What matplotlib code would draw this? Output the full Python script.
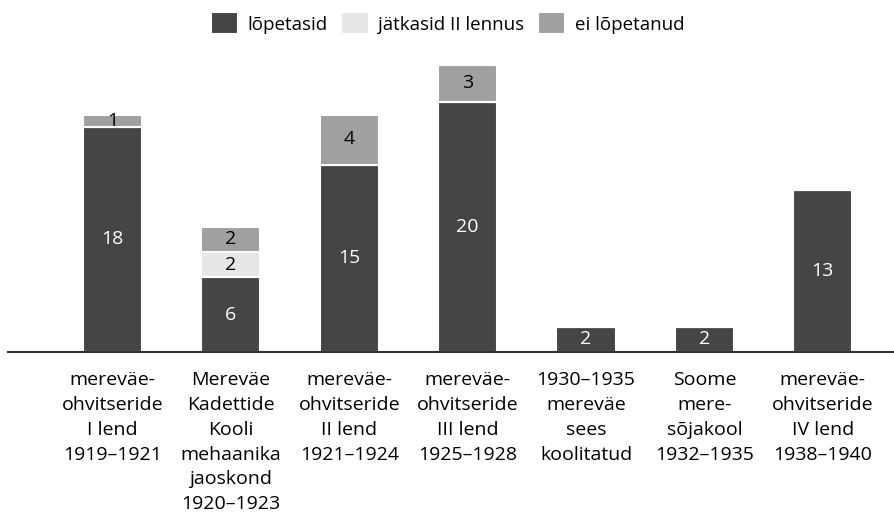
import matplotlib
matplotlib.use("Agg")
import matplotlib.pyplot as plt
import numpy as np

categories = [
    "mereväe-\nohvitseride\nI lend\n1919–1921",
    "Mereväe\nKadettide\nKooli\nmehaanika\njaoskond\n1920–1923",
    "mereväe-\nohvitseride\nII lend\n1921–1924",
    "mereväe-\nohvitseride\nIII lend\n1925–1928",
    "1930–1935\nmereväe\nsees\nkoolitatud",
    "Soome\nmere-\nsõjakool\n1932–1935",
    "mereväe-\nohvitseride\nIV lend\n1938–1940",
]
lopetasid = [18, 6, 15, 20, 2, 2, 13]
jatkasid = [0, 2, 0, 0, 0, 0, 0]
ei_lopetanud = [1, 2, 4, 3, 0, 0, 0]

series = [
    ("lõpetasid", lopetasid, "#454545", "white"),
    ("jätkasid II lennus", jatkasid, "#e6e6e6", "black"),
    ("ei lõpetanud", ei_lopetanud, "#a0a0a0", "black"),
]

plt.rcParams['font.family'] = ['Open Sans', 'DejaVu Sans']

fig = plt.figure(figsize=(8.95, 5.17), dpi=100)
ax = fig.add_axes([8/895, 165/517, 1 - 8/895, 295/517])

x = np.arange(len(categories))
bottom = np.zeros(len(categories))
for name, vals, color, tcolor in series:
    vals = np.array(vals, dtype=float)
    ax.bar(x, vals, width=0.5, bottom=bottom, color=color,
           edgecolor="white", linewidth=1.5, label=name)
    for xi, v, b in zip(x, vals, bottom):
        if v > 0:
            ax.text(xi, b + v / 2, f"{int(v)}", ha="center", va="center",
                    color=tcolor, fontsize=14)
    bottom += vals

ax.set_xlim(-0.883, 6.61)
ax.set_ylim(0, 23.6)
for s in ["top", "right", "left"]:
    ax.spines[s].set_visible(False)
ax.spines["bottom"].set_color("#333333")
ax.spines["bottom"].set_linewidth(1.5)
ax.set_yticks([])
ax.set_xticks(x)
ax.set_xticklabels(categories, fontsize=14, linespacing=1.48)
ax.tick_params(axis="x", length=0, pad=14)

fig.legend(loc="upper center", bbox_to_anchor=(0.5, 1.0), ncol=3, frameon=False,
           fontsize=13.5, handlelength=1.45, handleheight=1.45, handletextpad=0.5,
           columnspacing=0.75, borderaxespad=0.25)

fig.savefig("out.png", dpi=100)
